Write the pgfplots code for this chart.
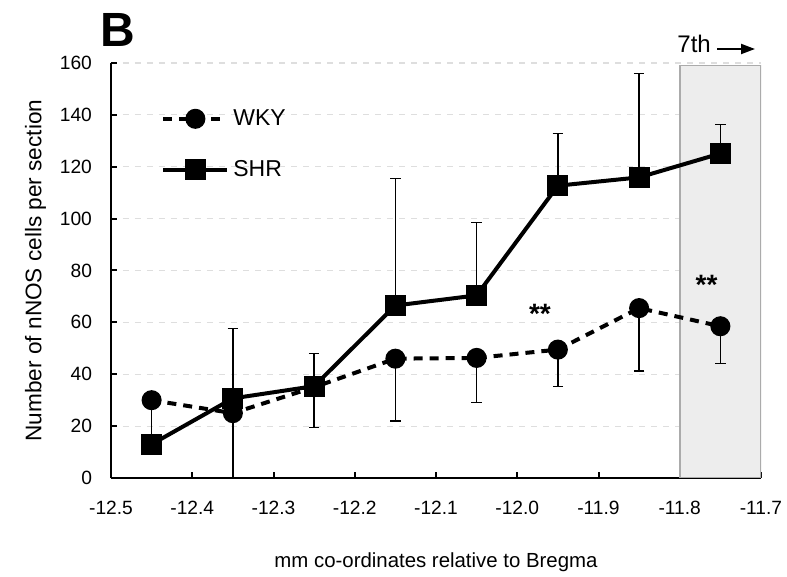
\documentclass[border=0pt]{standalone}
\usepackage{pgfplots}
\usepackage{pgfplotstable}
\pgfplotsset{compat=1.18}
\usepackage{fontspec}
\setmainfont{Liberation Sans}
\usetikzlibrary{arrows.meta}

% x = mm relative to Bregma, y = mean, e = one-sided error
\pgfplotstableread{
x      y     e
-12.45 30.0  17
-12.35 25.0  30
-12.25 35.0  15.5
-12.15 46.0  24
-12.05 46.3  17.2
-11.95 49.5  14.1
-11.85 65.5  24.2
-11.75 58.5  14.4
}\wky
\pgfplotstableread{
x      y     e
-12.45 13.0  17
-12.35 30.7  27
-12.25 35.4  12.5
-12.15 66.5  49
-12.05 70.4  28
-11.95 112.7 20
-11.85 115.9 40
-11.75 125.1 11.3
}\shr

\begin{document}
\begin{tikzpicture}
\begin{axis}[name=ax,
  width=325pt,height=207.5pt,scale only axis,
  xmin=-12.5,xmax=-11.7,ymin=0,ymax=160,
  axis x line=bottom,axis y line=left,
  axis line style={-,line width=1.3pt},
  xtick={-12.5,-12.4,...,-11.65},
  xticklabels={-12.5,-12.4,-12.3,-12.2,-12.1,-12.0,-11.9,-11.8,-11.7},
  ytick={0,20,...,160},
  tick align=inside,major tick length=3pt,
  tick style={line width=1pt,black},
  ymajorgrids,grid style={dashed,black!13,line width=0.6pt},
  tick label style={font=\fontsize{9.6}{11}\selectfont},
  /pgf/number format/assume math mode=true,
  xticklabel style={yshift=-8pt},
  yticklabel style={xshift=-6pt},
  xlabel={mm co-ordinates relative to Bregma},
  ylabel={Number of nNOS cells per section},
  xlabel style={font=\fontsize{10.2}{12}\selectfont,yshift=-12pt},
  ylabel style={font=\fontsize{11.3}{13}\selectfont,yshift=0pt},
  legend style={draw=none,fill=none,at={(0,1)},anchor=north west,
    xshift=25pt,yshift=-21pt,font=\fontsize{11.5}{13}\selectfont,
    row sep=12pt,inner sep=0pt},
  legend cell align=left,
  legend image code/.code={\draw[mark repeat=2,mark phase=2,#1] plot coordinates {(0pt,0pt) (16pt,0pt) (32pt,0pt)};},
  error bars/error bar style={solid,line width=0.65pt,black},
  error bars/error mark=-,
  error bars/error mark options={rotate=90,solid,line width=0.65pt,black,mark size=2.6pt},
]
\draw[draw=black!33,fill=black!7,line width=0.8pt] (axis cs:-11.8,0) rectangle (axis cs:-11.7,159);
\addplot[black,line width=2pt,dash pattern=on 4.5pt off 3.5pt,mark=*,mark size=4pt,
  mark options={solid},
  error bars/.cd,y dir=minus,y explicit]
  table[x=x,y=y,y error=e]{\wky};
\addlegendentry{WKY}
\addplot[black,line width=2pt,mark=square*,mark size=4.2pt,
  error bars/.cd,y dir=plus,y explicit]
  table[x=x,y=y,y error=e]{\shr};
\addlegendentry{SHR}
\node[anchor=base,font=\bfseries\fontsize{14}{15}\selectfont] at (axis cs:-11.972,59.5) {**};
\node[anchor=base,font=\bfseries\fontsize{14}{15}\selectfont] at (axis cs:-11.767,70.6) {**};
\end{axis}
\node[anchor=base west,font=\bfseries\fontsize{24}{28}\selectfont,inner sep=0pt]
  at ([xshift=-5.5pt,yshift=8pt]ax.north west) {B};
\node[anchor=base west,font=\fontsize{12}{13}\selectfont,inner sep=0pt]
  at ([xshift=283pt,yshift=5pt]ax.north west) {7th};
\draw[line width=1pt,-{Triangle[length=7pt,width=5pt]}]
  ([xshift=303pt,yshift=7pt]ax.north west) -- ([xshift=322pt,yshift=7pt]ax.north west);
\pgfresetboundingbox
\path ([xshift=-55.5pt,yshift=-49.5pt]ax.south west) rectangle ([xshift=338pt,yshift=239pt]ax.south west);
\end{tikzpicture}
\end{document}
